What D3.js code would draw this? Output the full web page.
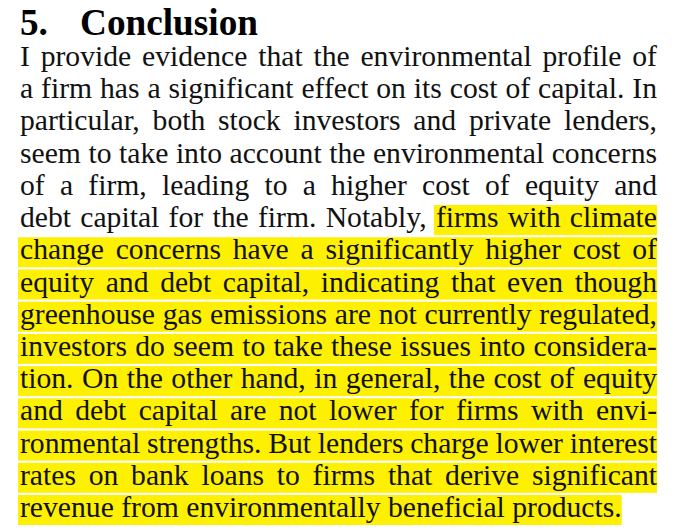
<!DOCTYPE html>
<html>
<head>
<meta charset="utf-8">
<script src="https://cdn.jsdelivr.net/npm/d3@7"></script>
<style>
  body { margin: 0; background: #fff; }
  svg { display: block; }
</style>
</head>
<body>
<svg id="page"></svg>
<script>
const width = 677, height = 532;
const left = 20, right = 657;

const headingNumber = '5.';
const headingTitle = 'Conclusion';

// each paragraph line as typeset; hl = index of first highlighted word (-1 none)
const lines = [
  'I provide evidence that the environmental profile of',
  'a firm has a significant effect on its cost of capital. In',
  'particular, both stock investors and private lenders,',
  'seem to take into account the environmental concerns',
  'of a firm, leading to a higher cost of equity and',
  'debt capital for the firm. Notably, firms with climate',
  'change concerns have a significantly higher cost of',
  'equity and debt capital, indicating that even though',
  'greenhouse gas emissions are not currently regulated,',
  'investors do seem to take these issues into considera-',
  'tion. On the other hand, in general, the cost of equity',
  'and debt capital are not lower for firms with envi-',
  'ronmental strengths. But lenders charge lower interest',
  'rates on bank loans to firms that derive significant',
  'revenue from environmentally beneficial products.'
];
const highlightStart = [-1, -1, -1, -1, -1, 6, 0, 0, 0, 0, 0, 0, 0, 0, 0];
const justified = lines.map((d, i) => i < lines.length - 1);
const lastLineEnd = 622;
const titleEnd = 258;

const svg = d3.select('#page').attr('width', width).attr('height', height);
const font = '"Liberation Serif", "DejaVu Serif", serif';

// line positions
const y = d3.scaleLinear().domain([0, 14]).range([66, 517]);

const hlLayer = svg.append('g');
const textLayer = svg.append('g').attr('font-family', font).attr('fill', '#111');

// heading, sized so the title spans the same width as the reference
const head = svg.append('g').attr('font-family', font).attr('font-weight', 'bold')
  .attr('font-size', 31).attr('fill', '#000');
const num = head.append('text').attr('x', left).attr('y', 35).text(headingNumber);
const title = head.append('text').attr('x', 80).attr('y', 35).text(headingTitle);
const hs = 31 * (titleEnd - 80) / title.node().getComputedTextLength();
head.attr('font-size', hs);

// pick font size so the last (unjustified) line is the right width
const probe = textLayer.append('text').attr('font-size', 26).text(lines[lines.length - 1]);
const fontSize = 26 * (lastLineEnd - left) / probe.node().getComputedTextLength();
probe.remove();
textLayer.attr('font-size', fontSize);

lines.forEach((line, i) => {
  const words = line.split(' ');
  const g = textLayer.append('g');
  const nodes = words.map(w => g.append('text').attr('y', y(i)).text(w));
  const widths = nodes.map(n => n.node().getComputedTextLength());
  const total = d3.sum(widths);
  const space = justified[i]
    ? (right - left - total) / (words.length - 1)
    : fontSize * 0.25;
  let x = left;
  const xs = [];
  nodes.forEach((n, k) => { xs.push(x); n.attr('x', x); x += widths[k] + space; });
  const end = x - space;
  const h = highlightStart[i];
  if (h >= 0) {
    hlLayer.append('rect')
      .attr('x', xs[h] - 2)
      .attr('y', y(i) - 22)
      .attr('width', end - xs[h] + 2)
      .attr('height', 30)
      .attr('fill', '#fdf000');
  }
});
</script>
</body>
</html>
